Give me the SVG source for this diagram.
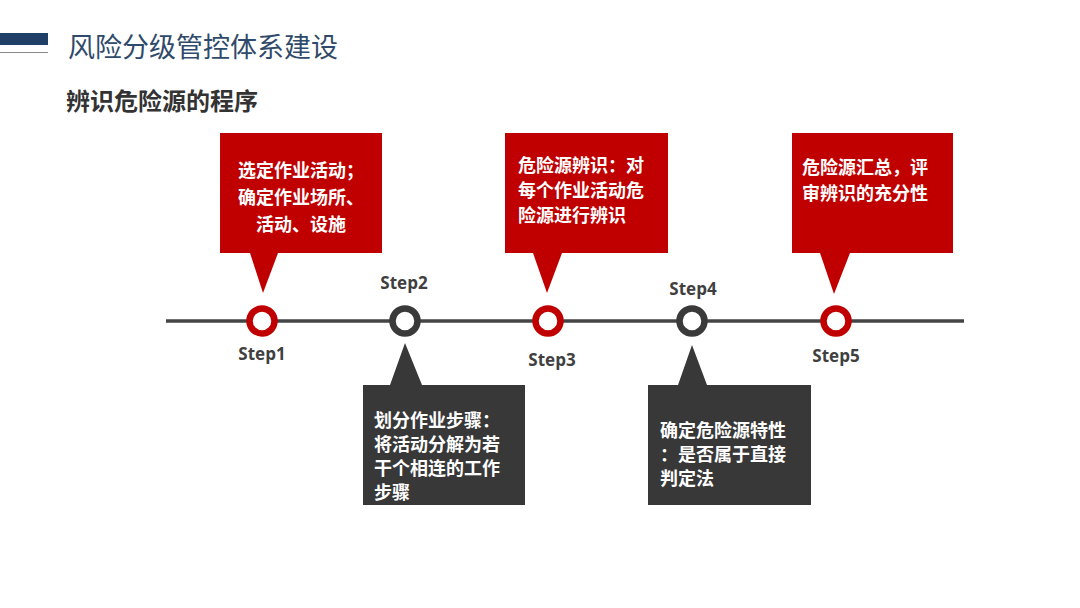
<svg xmlns="http://www.w3.org/2000/svg" width="1080" height="608" viewBox="0 0 1080 608">
<style>
.cjk{font-family:"Noto Sans CJK SC","Noto Sans",sans-serif}
.ct{font-family:"Noto Sans CJK SC",sans-serif;font-weight:bold;font-size:18px;fill:#ffffff}
.step{font-family:"Open Sans","Liberation Sans",sans-serif;font-weight:bold;font-size:17px;fill:#404040;text-anchor:middle}
.red{fill:#c00000}
.dark{fill:#383838}
.ringr{fill:#ffffff;stroke:#c00000;stroke-width:6.5}
.ringd{fill:#ffffff;stroke:#3a3a3a;stroke-width:6.5}
</style>
<rect width="1080" height="608" fill="#ffffff"/>
<g id="header">
<rect x="0" y="33" width="48" height="12" fill="#1f3f66"/>
<line x1="0" y1="52.5" x2="48" y2="52.5" stroke="#8a8a8a" stroke-width="1.2"/>
<text x="68" y="57" class="cjk" font-size="27" fill="#2f4a6a">风险分级管控体系建设</text>
<text x="66" y="110" class="cjk" font-size="24" font-weight="bold" fill="#333333">辨识危险源的程序</text>
</g>
<g id="connectors">
<line x1="166" y1="321" x2="964" y2="321" stroke="#444444" stroke-width="3.5"/>
</g>
<g id="step1">
<path class="red" d="M220,133 H382 V253 H278 L263,293 L250,253 H220 Z"/>
<text class="ct" text-anchor="middle"><tspan x="301" y="177">选定作业活动；</tspan><tspan x="301" y="204">确定作业场所、</tspan><tspan x="301" y="231">活动、设施</tspan></text>
<circle class="ringr" cx="262" cy="321" r="12.5"/>
<text class="step" x="262" y="360">Step1</text>
</g>
<g id="step2">
<path class="dark" d="M363,385 H390 L405,343 L422,385 H525 V505 H363 Z"/>
<text class="ct"><tspan x="374" y="427">划分作业步骤：</tspan><tspan x="374" y="451">将活动分解为若</tspan><tspan x="374" y="475">干个相连的工作</tspan><tspan x="374" y="499">步骤</tspan></text>
<circle class="ringd" cx="405" cy="321" r="12.5"/>
<text class="step" x="404" y="289">Step2</text>
</g>
<g id="step3">
<path class="red" d="M505,133 H668 V253 H562 L547,293 L533,253 H505 Z"/>
<text class="ct"><tspan x="518" y="172">危险源辨识：对</tspan><tspan x="518" y="197">每个作业活动危</tspan><tspan x="518" y="222">险源进行辨识</tspan></text>
<circle class="ringr" cx="548" cy="321" r="12.5"/>
<text class="step" x="552" y="366">Step3</text>
</g>
<g id="step4">
<path class="dark" d="M648,385 H678 L692,345 L707,385 H811 V505 H648 Z"/>
<text class="ct"><tspan x="660" y="437">确定危险源特性</tspan><tspan x="660" y="461">：是否属于直接</tspan><tspan x="660" y="485">判定法</tspan></text>
<circle class="ringd" cx="692" cy="321" r="12.5"/>
<text class="step" x="693" y="295">Step4</text>
</g>
<g id="step5">
<path class="red" d="M792,133 H953 V253 H850 L834,294 L820,253 H792 Z"/>
<text class="ct"><tspan x="802" y="174">危险源汇总，评</tspan><tspan x="802" y="200">审辨识的充分性</tspan></text>
<circle class="ringr" cx="836" cy="321" r="12.5"/>
<text class="step" x="836" y="362">Step5</text>
</g>
</svg>
